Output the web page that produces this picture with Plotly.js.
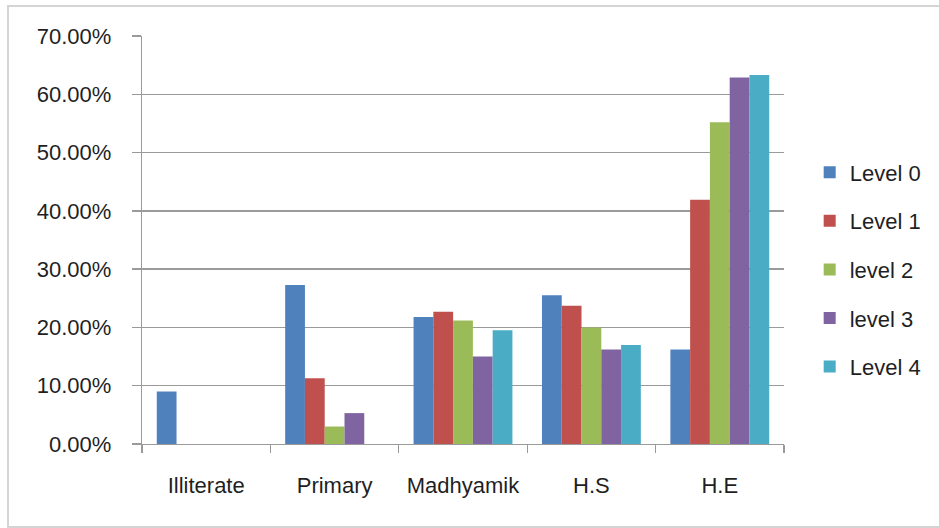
<!DOCTYPE html>
<html>
<head>
<meta charset="utf-8">
<script src="https://cdn.plot.ly/plotly-3.0.1.min.js"></script>
<style>
  html, body { margin: 0; padding: 0; background: #fff; }
  #chart { width: 939px; height: 528px; }
</style>
</head>
<body>
<div id="chart"></div>
<script>
const categories = ["Illiterate", "Primary", "Madhyamik", "H.S", "H.E"];
const seriesNames = ["Level 0", "Level 1", "level 2", "level 3", "Level 4"];
const level0 = [0.090, 0.273, 0.218, 0.255, 0.162];
const level1 = [0.000, 0.113, 0.227, 0.237, 0.419];
const level2 = [0.000, 0.030, 0.212, 0.200, 0.552];
const level3 = [0.000, 0.053, 0.150, 0.162, 0.629];
const level4 = [0.000, 0.000, 0.195, 0.170, 0.633];
const yTickVals = [0, 0.1, 0.2, 0.3, 0.4, 0.5, 0.6, 0.7];

const seriesValues = [level0, level1, level2, level3, level4];
const colors = ["#4F81BD", "#C0504D", "#9BBB59", "#8064A2", "#4BACC6"];

const traces = seriesValues.map((vals, i) => ({
  type: "bar",
  name: seriesNames[i],
  x: categories,
  y: vals,
  marker: { color: colors[i], line: { width: 0 } },
  legendgroup: "g" + i,
  hoverinfo: "x+y+name"
}));

const fontFamily = "Liberation Sans, Arial, sans-serif";
const textColor = "#1f1f1f";
const gridColor = "#9a9a9a";

const layout = {
  width: 939,
  height: 528,
  margin: { l: 142, r: 155, t: 36, b: 84, pad: 0 },
  paper_bgcolor: "#ffffff",
  plot_bgcolor: "#ffffff",
  font: { family: fontFamily, size: 22, color: textColor },
  bargap: 0.23,
  bargroupgap: 0,
  barmode: "group",
  showlegend: true,
  legend: {
    x: 1.04, xanchor: "left",
    y: 0.428, yanchor: "middle",
    font: { family: fontFamily, size: 22, color: textColor },
    tracegroupgap: 17,
    traceorder: "grouped",
    bgcolor: "rgba(0,0,0,0)",
    borderwidth: 0,
    itemwidth: 30
  },
  xaxis: {
    type: "category",
    tickson: "boundaries",
    ticks: "outside",
    ticklen: 8,
    tickwidth: 1.3,
    tickcolor: gridColor,
    showline: true,
    linecolor: gridColor,
    linewidth: 1.3,
    showgrid: false,
    zeroline: false,
    ticklabelstandoff: 21,
    tickfont: { family: fontFamily, size: 22, color: textColor }
  },
  yaxis: {
    range: [0, 0.7],
    tickvals: yTickVals,
    tickformat: ".2%",
    ticks: "outside",
    ticklen: 9,
    tickwidth: 1.3,
    tickcolor: gridColor,
    showline: true,
    linecolor: gridColor,
    linewidth: 1.3,
    showgrid: true,
    gridcolor: gridColor,
    gridwidth: 1.3,
    zeroline: false,
    ticklabelstandoff: 16,
    tickfont: { family: fontFamily, size: 22, color: textColor }
  },
  shapes: [{
    type: "rect",
    xref: "paper", yref: "paper",
    x0: (8 - 142) / 642, x1: (945 - 142) / 642,
    y0: -(83 / 408), y1: 1 + 30 / 408,
    line: { color: "#d4d4d4", width: 2 },
    fillcolor: "rgba(0,0,0,0)",
    layer: "below"
  }]
};

Plotly.newPlot("chart", traces, layout, { displayModeBar: false, staticPlot: true });
</script>
</body>
</html>
